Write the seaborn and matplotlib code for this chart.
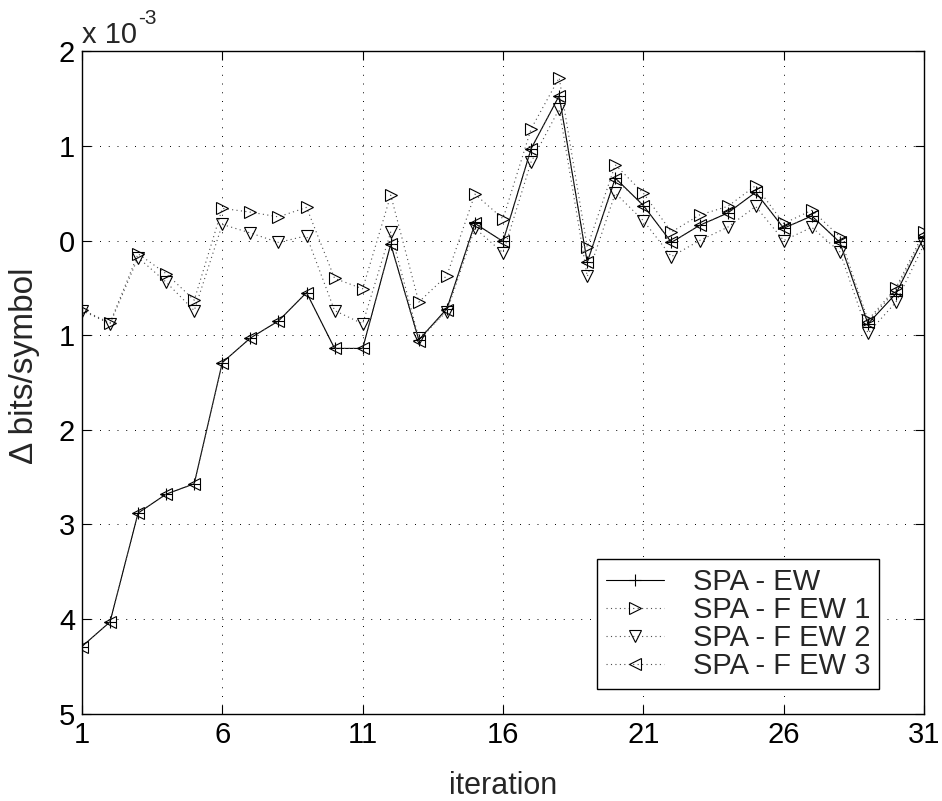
import numpy as np
import pandas as pd
import matplotlib
matplotlib.use("Agg")
import matplotlib.pyplot as plt
import seaborn as sns

# values in units of 1e-3 bits/symbol
iters = list(range(1, 32))
spa_ew = [-4.29, -4.03, -2.88, -2.68, -2.57, -1.29, -1.03, -0.85, -0.55, -1.14,
          -1.14, -0.04, -1.05, -0.72, 0.18, -0.01, 0.97, 1.53, -0.23, 0.66,
          0.37, -0.02, 0.16, 0.29, 0.51, 0.13, 0.26, -0.02, -0.88, -0.56, 0.04]
spa_few1 = [-0.73, -0.87, -0.14, -0.35, -0.63, 0.34, 0.30, 0.25, 0.35, -0.40,
            -0.51, 0.48, -0.65, -0.37, 0.49, 0.23, 1.18, 1.72, -0.07, 0.80,
            0.50, 0.09, 0.27, 0.36, 0.58, 0.18, 0.32, 0.04, -0.84, -0.50, 0.09]
spa_few2 = [-0.74, -0.88, -0.18, -0.44, -0.74, 0.17, 0.08, -0.02, 0.05, -0.74,
            -0.88, 0.09, -1.03, -0.75, 0.13, -0.13, 0.83, 1.39, -0.38, 0.50,
            0.21, -0.17, 0.00, 0.14, 0.36, 0.00, 0.14, -0.12, -0.98, -0.65, -0.04]
spa_few3 = [-4.29, -4.03, -2.88, -2.68, -2.57, -1.29, -1.03, -0.85, -0.55, -1.14,
            -1.14, -0.04, -1.06, -0.73, 0.18, -0.01, 0.97, 1.53, -0.23, 0.65,
            0.37, -0.02, 0.16, 0.29, 0.51, 0.13, 0.26, -0.02, -0.86, -0.52, 0.06]
labels = ["SPA - EW", "SPA - F EW 1", "SPA - F EW 2", "SPA - F EW 3"]
xticks = [1, 6, 11, 16, 21, 26, 31]
yticks = [2, 1, 0, -1, -2, -3, -4, -5]
ytick_labels = ["2", "1", "0", "1", "2", "3", "4", "5"]

sns.set_style("ticks")
plt.rcParams["font.family"] = ["Liberation Sans", "DejaVu Sans"]

fig = plt.figure(figsize=(9.42, 8.01), dpi=100)
ax = fig.add_axes([0.087, 0.109, 0.894, 0.827])

scale = 1e-3
series = [spa_ew, spa_few1, spa_few2, spa_few3]
markers = ["+", ">", "v", "<"]
styles = ["-", (0, (1, 3)), (0, (1, 3)), (0, (1, 3))]
line_colors = ["black", "0.3", "0.3", "0.3"]
for vals, lab, mk, ls, lc in zip(series, labels, markers, styles, line_colors):
    sns.lineplot(x=iters, y=np.array(vals) * scale, ax=ax, color=lc,
                 linestyle=ls, linewidth=0.8, marker=mk, markersize=9,
                 markerfacecolor="none", markeredgecolor="black", markeredgewidth=0.8,
                 label=lab)

ax.set_xlim(1, 31)
ax.set_ylim(-5 * scale, 2 * scale)
ax.set_xticks(xticks)
ax.set_xticklabels([str(t) for t in xticks])
ax.set_yticks([t * scale for t in yticks])
ax.set_yticklabels(ytick_labels)
ax.tick_params(direction="in", length=6.5, width=0.8, top=True, right=True,
               labelsize=21, pad=5, colors="black")
ax.grid(True, color="black", linestyle=(0, (1, 8)), linewidth=0.7)
for s in ax.spines.values():
    s.set_visible(True)
    s.set_color("black")
    s.set_linewidth(1.0)

ax.set_xlabel("iteration", fontsize=22)
ax.set_ylabel("Δ bits/symbol", fontsize=24)
ax.xaxis.set_label_coords(0.5, -0.087)
ax.yaxis.set_label_coords(-0.050, 0.525)

# exponent note above the y axis
t = ax.text(0, 1.012, "x 10", transform=ax.transAxes, fontsize=21,
            ha="left", va="baseline")
ax.annotate("-3", xy=(1, 1), xycoords=t, xytext=(0.5, -2), textcoords="offset points",
            fontsize=15, ha="left", va="baseline")

leg = ax.legend(loc="lower right", bbox_to_anchor=(0.947, 0.038), fontsize=21,
                frameon=True, fancybox=False, framealpha=1, edgecolor="black",
                borderpad=0.3, labelspacing=0.0, handlelength=2.0,
                handletextpad=1.0, borderaxespad=0, numpoints=1)
leg.get_frame().set_linewidth(1.0)

fig.savefig("out.png", dpi=100)
